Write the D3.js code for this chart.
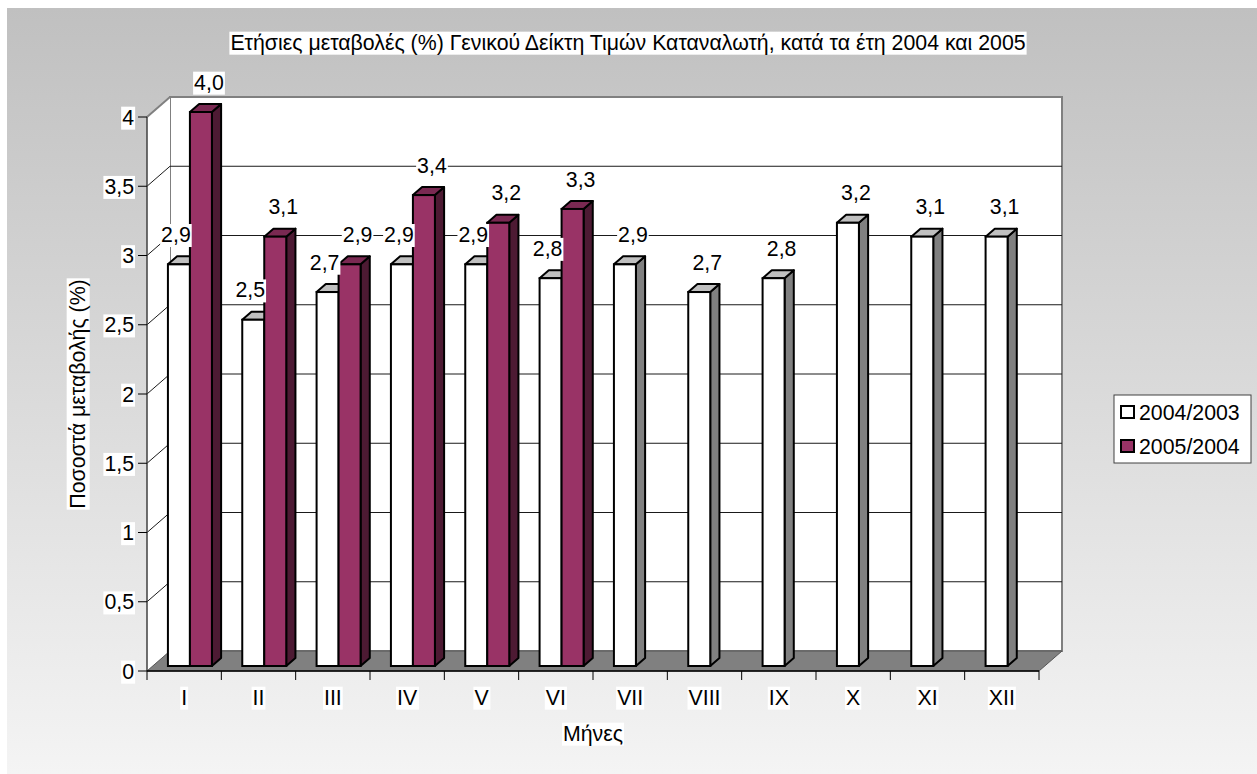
<!DOCTYPE html>
<html>
<head>
<meta charset="utf-8">
<script src="https://cdn.jsdelivr.net/npm/d3@7"></script>
<style>
	html, body { margin: 0; padding: 0; background: #fff; }
	svg { display: block; font-family: "Liberation Sans", Arial, sans-serif; }
</style>
</head>
<body>
<div id="chart"></div>
<script>
(function() {
	'use strict';

	// data
	var months = ["I", "II", "III", "IV", "V", "VI", "VII", "VIII", "IX", "X", "XI", "XII"];
	var seriesNames = ["2004/2003", "2005/2004"];
	var values2004 = [2.9, 2.5, 2.7, 2.9, 2.9, 2.8, 2.9, 2.7, 2.8, 3.2, 3.1, 3.1];
	var values2005 = [4.0, 3.1, 2.9, 3.4, 3.2, 3.3, null, null, null, null, null, null];
	var yTicks = [0, 0.5, 1, 1.5, 2, 2.5, 3, 3.5, 4];
	var titleText = "Ετήσιες μεταβολές (%) Γενικού Δείκτη Τιμών Καταναλωτή, κατά τα έτη 2004 και 2005";
	var yTitle = "Ποσοστά μεταβολής (%)";
	var xTitle = "Μήνες";

	var config = {
		width: 1257,
		height: 774,
		depthX: 23,
		depthY: -20,
		barFront: 0.25,
		barBack: 0.65,
		fontSize: 21.3,
		colors: [
			{front: "#ffffff", top: "#c0c0c0", side: "#808080"},
			{front: "#993366", top: "#7a2952", side: "#4d1a33"}
		]
	};

	var locale = d3.formatLocale({decimal: ",", thousands: ".", grouping: [3], currency: ["", "€"]});
	var fmtTick = locale.format("");
	var fmtVal = locale.format(".1f");

	var svg = d3.select("#chart").append("svg")
		.attr("width", config.width)
		.attr("height", config.height);

	var defs = svg.append("defs");
	var grad = defs.append("linearGradient").attr("id", "bg").attr("x1", 0).attr("y1", 0).attr("x2", 0).attr("y2", 1);
	grad.append("stop").attr("offset", "0%").attr("stop-color", "#c0c0c0");
	grad.append("stop").attr("offset", "100%").attr("stop-color", "#f4f4f4");

	svg.append("rect")
		.attr("x", 7).attr("y", 8)
		.attr("width", config.width - 7).attr("height", config.height - 8)
		.attr("fill", "url(#bg)");

	var x = d3.scaleBand().domain(months).range([147, 1039]).paddingInner(0).paddingOuter(0);
	var xs = d3.scaleBand().domain(d3.range(seriesNames.length)).range([0, x.bandwidth()]).paddingInner(0).paddingOuter(0.69);
	var y = d3.scaleLinear().domain([0, 4]).range([671, 117]);

	var DX = config.depthX, DY = config.depthY;
	var x0 = x.range()[0], x1 = x.range()[1];
	var yTop = y(yTicks[yTicks.length - 1]), yBot = y(0);

	function pts(arr) {
		return arr.map(function(p){ return p[0] + "," + p[1]; }).join(" ");
	}

	var g = svg.append("g");

	// back wall
	g.append("polygon")
		.attr("points", pts([[x0 + DX, yTop + DY], [x1 + DX, yTop + DY], [x1 + DX, yBot + DY], [x0 + DX, yBot + DY]]))
		.attr("fill", "#fff")
		.attr("stroke", "#808080")
		.attr("stroke-width", 2);

	// side wall
	g.append("polygon")
		.attr("points", pts([[x0, yTop], [x0 + DX, yTop + DY], [x0 + DX, yBot + DY], [x0, yBot]]))
		.attr("fill", "#fff")
		.attr("stroke", "none");
	g.append("line")
		.attr("x1", x0).attr("y1", yTop).attr("x2", x0 + DX).attr("y2", yTop + DY)
		.attr("stroke", "#808080").attr("stroke-width", 2);

	// gridlines
	yTicks.filter(function(t){ return t > 0 && t < 4; }).forEach(function(t) {
		g.append("line")
			.attr("x1", x0 + DX).attr("x2", x1 + DX)
			.attr("y1", y(t) + DY).attr("y2", y(t) + DY)
			.attr("stroke", "#1a1a1a").attr("stroke-width", 1);
		g.append("line")
			.attr("x1", x0).attr("y1", y(t))
			.attr("x2", x0 + DX).attr("y2", y(t) + DY)
			.attr("stroke", "#1a1a1a").attr("stroke-width", 1);
	});

	// floor
	g.append("polygon")
		.attr("points", pts([[x0, yBot], [x1, yBot], [x1 + DX, yBot + DY], [x0 + DX, yBot + DY]]))
		.attr("fill", "#808080")
		.attr("stroke", "#555")
		.attr("stroke-width", 1);

	// bars
	var allValues = [values2004, values2005];
	var fx = config.barFront, bx = config.barBack;
	var labels = [];
	months.forEach(function(m, i) {
		allValues.forEach(function(vals, s) {
			var v = vals[i];
			if (v === null || v === undefined) return;
			var left = x(m) + xs(s) + DX * fx;
			var right = left + xs.bandwidth();
			var top = y(v) + DY * fx;
			var bottom = yBot + DY * fx;
			var ddx = DX * (bx - fx), ddy = DY * (bx - fx);
			var c = config.colors[s];
			var bar = g.append("g").attr("class", "bar");
			bar.append("polygon")
				.attr("points", pts([[right, top], [right + ddx, top + ddy], [right + ddx, bottom + ddy], [right, bottom]]))
				.attr("fill", c.side).attr("stroke", "#000").attr("stroke-width", 2).attr("stroke-linejoin", "round");
			bar.append("polygon")
				.attr("points", pts([[left, top], [left + ddx, top + ddy], [right + ddx, top + ddy], [right, top]]))
				.attr("fill", c.top).attr("stroke", "#000").attr("stroke-width", 2).attr("stroke-linejoin", "round");
			bar.append("rect")
				.attr("x", left).attr("y", top)
				.attr("width", right - left).attr("height", bottom - top)
				.attr("fill", c.front).attr("stroke", "#000").attr("stroke-width", 2);
			var hasPartner = allValues.some(function(o, k){ return k !== s && o[i] !== null; });
			var shift = (s === 0 && hasPartner) ? -3 : 8;
			labels.push({x: (left + right) / 2 + shift, y: top - 30, text: fmtVal(v)});
		});
	});

	// text with white box
	function boxedText(parent, tx, ty, txt, anchor, rotate) {
		var holder = parent.append("g")
			.attr("transform", "translate(" + tx + "," + ty + ")" + (rotate ? " rotate(" + rotate + ")" : ""));
		var rect = holder.append("rect").attr("fill", "#fff");
		var t = holder.append("text")
			.attr("text-anchor", anchor || "middle")
			.attr("dy", "0.36em")
			.attr("font-size", config.fontSize)
			.attr("fill", "#000")
			.text(txt);
		var bb = t.node().getBBox();
		rect.attr("x", bb.x - 1).attr("y", bb.y + 1).attr("width", bb.width + 2).attr("height", bb.height - 1);
		return holder;
	}

	// y axis
	var axisG = svg.append("g");
	axisG.append("line")
		.attr("x1", x0).attr("x2", x0).attr("y1", yTop).attr("y2", yBot)
		.attr("stroke", "#404040").attr("stroke-width", 1.5);
	yTicks.forEach(function(t) {
		axisG.append("line")
			.attr("x1", x0 - 9).attr("x2", x0).attr("y1", y(t)).attr("y2", y(t))
			.attr("stroke", "#000").attr("stroke-width", 1);
		boxedText(axisG, x0 - 13, y(t), fmtTick(t), "end");
	});

	// x axis
	axisG.append("line")
		.attr("x1", x0).attr("x2", x1).attr("y1", yBot).attr("y2", yBot)
		.attr("stroke", "#000").attr("stroke-width", 1.5);
	months.forEach(function(m, i) {
		axisG.append("line")
			.attr("x1", x(m)).attr("x2", x(m)).attr("y1", yBot).attr("y2", yBot + 9)
			.attr("stroke", "#000").attr("stroke-width", 1);
		boxedText(axisG, x(m) + x.bandwidth() / 2, yBot + 26, m, "middle");
	});
	axisG.append("line")
		.attr("x1", x1).attr("x2", x1).attr("y1", yBot).attr("y2", yBot + 9)
		.attr("stroke", "#000").attr("stroke-width", 1);

	// data labels
	var labelG = svg.append("g");
	labels.forEach(function(l) {
		boxedText(labelG, l.x, l.y, l.text, "middle");
	});

	// titles
	boxedText(svg, 628, 42, titleText, "middle");
	boxedText(svg, 77, 394, yTitle, "middle", -90);
	boxedText(svg, 593, 733, xTitle, "middle");

	// legend
	var legend = svg.append("g");
	legend.append("rect")
		.attr("x", 1114).attr("y", 395).attr("width", 137).attr("height", 68)
		.attr("fill", "#fff").attr("stroke", "#404040").attr("stroke-width", 1);
	seriesNames.forEach(function(name, s) {
		var ly = 412 + s * 34;
		legend.append("rect")
			.attr("x", 1121).attr("y", ly - 6).attr("width", 13).attr("height", 12)
			.attr("fill", config.colors[s].front).attr("stroke", "#000").attr("stroke-width", 2);
		legend.append("text")
			.attr("x", 1139).attr("y", ly).attr("dy", "0.36em")
			.attr("font-size", config.fontSize)
			.text(name);
	});
}).call(this);
</script>
</body>
</html>
